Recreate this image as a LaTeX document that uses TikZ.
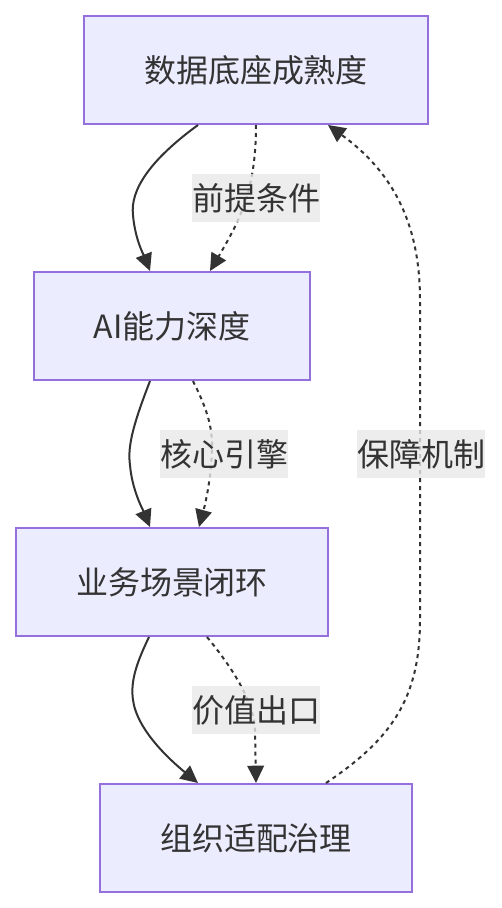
\documentclass[tikz,border=0pt]{standalone}
\usepackage{fontspec}
\setmainfont{Noto Sans CJK SC}
\usetikzlibrary{arrows.meta, calc}
\definecolor{boxfill}{HTML}{ECECFF}
\definecolor{boxline}{HTML}{9370DB}
\definecolor{ink}{HTML}{333333}
\definecolor{tagfill}{HTML}{E8E8E8}

\begin{document}
\begin{tikzpicture}[x=0.75pt, y=-0.75pt,
    stage/.style={draw=boxline, fill=boxfill, line width=1.5pt, text=ink,
      minimum height=81pt, inner sep=0pt, font=\fontsize{24}{28}\selectfont},
    tag/.style={fill=tagfill, fill opacity=0.8, text opacity=1, text=ink,
      minimum height=36pt, inner xsep=0pt, font=\fontsize{24}{28}\selectfont},
    flow/.style={draw=ink, line width=1.5pt, -{Triangle[length=13pt,width=12.5pt]}},
    hint/.style={flow, dash pattern=on 3pt off 3pt}]
      \useasboundingbox (0,0) rectangle (501,908);
      % Stages
      \node[stage, minimum width=258pt] (data) at (256,70) {数据底座成熟度};
      \node[stage, minimum width=207pt] (ai) at (172,326) {AI能力深度};
      \node[stage, minimum width=234pt] (biz) at (172,582) {业务场景闭环};
      \node[stage, minimum width=234pt] (org) at (256,838) {组织适配治理};
      % Data -> AI
      \draw[flow] ($(data.south)+(-58,0)$) .. controls (150,160) and (130,190) .. (133,215)
        .. controls (135,240) and (145,258) .. ($(ai.north)+(-22,0)$);
      \draw[hint] ($(data.south)+(0,0)$) .. controls (256,190) and (240,220) .. ($(ai.north)+(38,0)$);
      \node[tag] (pre) at (256,198) {前提条件};
      % AI -> business
      \draw[flow] ($(ai.south)+(-22,0)$) .. controls (135,420) and (127,445) .. (130,465)
        .. controls (132,490) and (143,510) .. ($(biz.north)+(-22,0)$);
      \draw[hint] ($(ai.south)+(21,0)$) .. controls (205,405) and (213,425) .. (212,450)
        .. controls (211,480) and (205,505) .. ($(biz.north)+(27,0)$);
      \node[tag] (core) at (224,454) {核心引擎};
      % Business -> organisation
      \draw[flow] ($(biz.south)+(-23,0)$) .. controls (138,660) and (130,680) .. (133,700)
        .. controls (137,730) and (170,760) .. ($(org.north)+(-58,0)$);
      \draw[hint] ($(biz.south)+(35,0)$) .. controls (230,665) and (254,700) .. (255,730)
        -- (org.north);
      \node[tag] (val) at (256,710) {价值出口};
      % Organisation -> data (feedback)
      \draw[hint] ($(org.north)+(70,0)$) .. controls (390,740) and (420,700) .. (420,620)
        -- (420,300) .. controls (420,220) and (390,170) .. ($(data.south)+(72,0)$);
      \node[tag] (guard) at (421,454) {保障机制};
    \end{tikzpicture}
\end{document}
